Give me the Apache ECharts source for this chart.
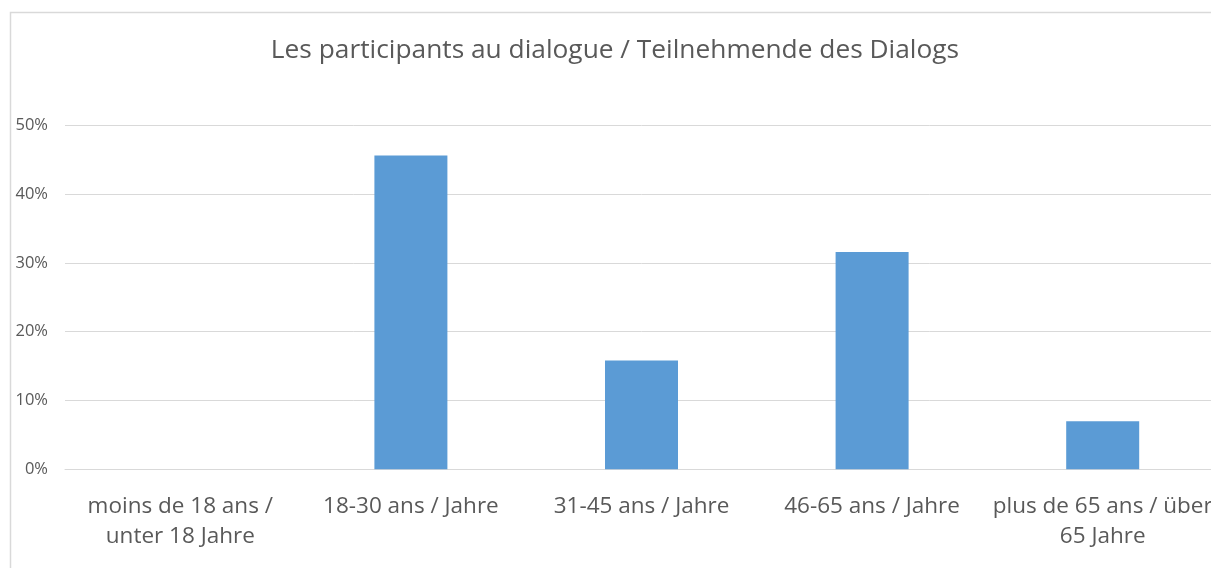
<!DOCTYPE html>
<html>
<head>
<meta charset="utf-8">
<script src="https://cdn.jsdelivr.net/npm/echarts@6/dist/echarts.min.js"></script>
<style>
html,body{margin:0;padding:0;background:#fff;overflow:hidden;}
#chart{width:1220px;height:568px;}
</style>
</head>
<body>
<div id="chart"></div>
<script>
const titleText = 'Les participants au dialogue / Teilnehmende des Dialogs';
const categories = [
  'moins de 18 ans /\nunter 18 Jahre',
  '18-30 ans / Jahre',
  '31-45 ans / Jahre',
  '46-65 ans / Jahre',
  'plus de 65 ans / über\n65 Jahre'
];
const shares = [0, 45.6, 15.8, 31.6, 7.0];
const yTicks = [0, 10, 20, 30, 40, 50];

const FONT = '"Open Sans", "Noto Sans", sans-serif';
const chart = echarts.init(document.getElementById('chart'), null, {renderer: 'canvas'});
chart.setOption({
  backgroundColor: '#ffffff',
  animation: false,
  title: {
    text: titleText,
    left: 615,
    top: 38,
    padding: 0,
    textAlign: 'center',
    textStyle: {fontFamily: FONT, fontSize: 26.3, fontWeight: 'normal', color: '#595959'}
  },
  graphic: [{
    type: 'rect',
    shape: {x: 10.5, y: 12.5, width: 1400, height: 700},
    style: {fill: null, stroke: '#d9d9d9', lineWidth: 1.5},
    silent: true
  }],
  grid: {left: 65, width: 1153, top: 125.3, height: 344, containLabel: false},
  xAxis: {
    type: 'category',
    data: categories,
    axisLine: {show: true, lineStyle: {color: '#d9d9d9', width: 1}},
    axisTick: {show: false},
    axisLabel: {fontFamily: FONT, fontSize: 22.5, color: '#595959', lineHeight: 30, margin: 22, interval: 0}
  },
  yAxis: {
    type: 'value',
    min: yTicks[0],
    max: yTicks[yTicks.length - 1],
    interval: 10,
    axisLine: {show: false},
    axisTick: {show: false},
    splitLine: {lineStyle: {color: '#d9d9d9', width: 1}},
    axisLabel: {fontFamily: FONT, fontSize: 16.5, color: '#595959', margin: 17, formatter: v => v + '%'}
  },
  series: [{
    type: 'bar',
    data: shares,
    barWidth: 73,
    itemStyle: {color: '#5b9bd5'}
  }]
});
</script>
</body>
</html>
